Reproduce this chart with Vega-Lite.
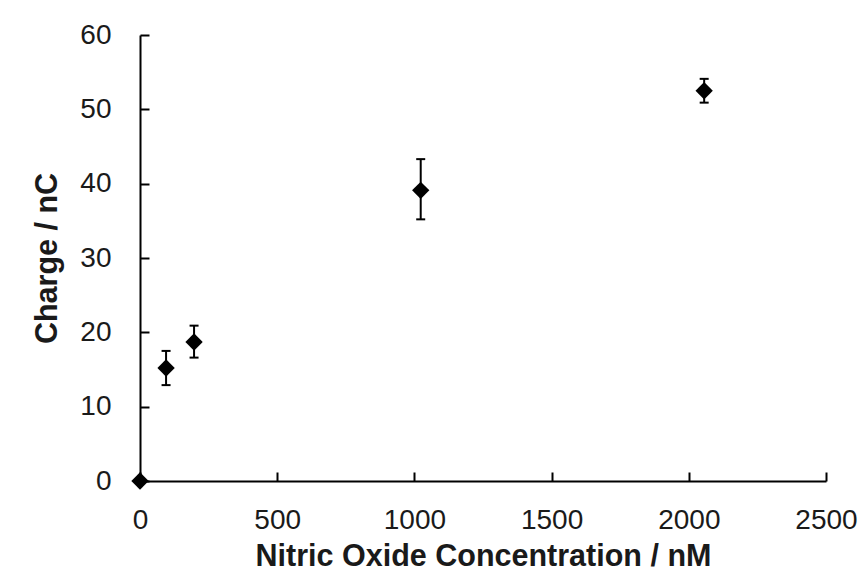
{
  "$schema": "https://vega.github.io/schema/vega-lite/v6.json",
  "width": 686,
  "height": 446,
  "autosize": {"type": "none"},
  "padding": {"left": 140, "top": 35, "right": 36, "bottom": 107},
  "background": "white",
  "config": {
    "view": {"stroke": null},
    "font": "Liberation Sans",
    "axis": {
      "grid": false,
      "domainColor": "#000",
      "domainWidth": 2,
      "tickColor": "#000",
      "tickWidth": 2,
      "tickSize": -9,
      "labelFont": "Liberation Sans",
      "labelFontSize": 28,
      "labelColor": "#1a1a1a",
      "labelFlush": false,
      "labelOverlap": false,
      "titleFont": "Liberation Sans",
      "titleFontSize": 30.5,
      "titleFontWeight": "bold",
      "titleColor": "#1a1a1a"
    }
  },
  "data": {
    "values": [
      {"conc": 0, "charge": 0, "lo": null, "hi": null},
      {"conc": 95, "charge": 15.2, "lo": 12.9, "hi": 17.5},
      {"conc": 197, "charge": 18.7, "lo": 16.6, "hi": 20.9},
      {"conc": 1023, "charge": 39.1, "lo": 35.2, "hi": 43.3},
      {"conc": 2056, "charge": 52.5, "lo": 50.9, "hi": 54.1}
    ]
  },
  "layer": [
    {
      "transform": [{"filter": "datum.lo != null"}],
      "mark": {"type": "rule", "color": "#000", "strokeWidth": 2},
      "encoding": {
        "x": {"field": "conc", "type": "quantitative"},
        "y": {"field": "lo", "type": "quantitative"},
        "y2": {"field": "hi"}
      }
    },
    {
      "transform": [{"filter": "datum.lo != null"}],
      "mark": {"type": "tick", "orient": "horizontal", "color": "#000", "size": 9, "thickness": 2, "opacity": 1},
      "encoding": {
        "x": {"field": "conc", "type": "quantitative"},
        "y": {"field": "lo", "type": "quantitative"}
      }
    },
    {
      "transform": [{"filter": "datum.lo != null"}],
      "mark": {"type": "tick", "orient": "horizontal", "color": "#000", "size": 9, "thickness": 2, "opacity": 1},
      "encoding": {
        "x": {"field": "conc", "type": "quantitative"},
        "y": {"field": "hi", "type": "quantitative"}
      }
    },
    {
      "mark": {"type": "point", "shape": "diamond", "filled": true, "color": "#000", "size": 300, "opacity": 1},
      "encoding": {
        "x": {
          "field": "conc", "type": "quantitative",
          "scale": {"domain": [0, 2500], "nice": false},
          "axis": {"values": [0, 500, 1000, 1500, 2000, 2500], "format": "d", "title": "Nitric Oxide Concentration / nM", "labelPadding": 34, "titlePadding": 7}
        },
        "y": {
          "field": "charge", "type": "quantitative",
          "scale": {"domain": [0, 60], "nice": false},
          "axis": {"values": [0, 10, 20, 30, 40, 50, 60], "format": "d", "title": "Charge / nC", "labelPadding": 38, "titlePadding": 17}
        }
      }
    }
  ]
}
